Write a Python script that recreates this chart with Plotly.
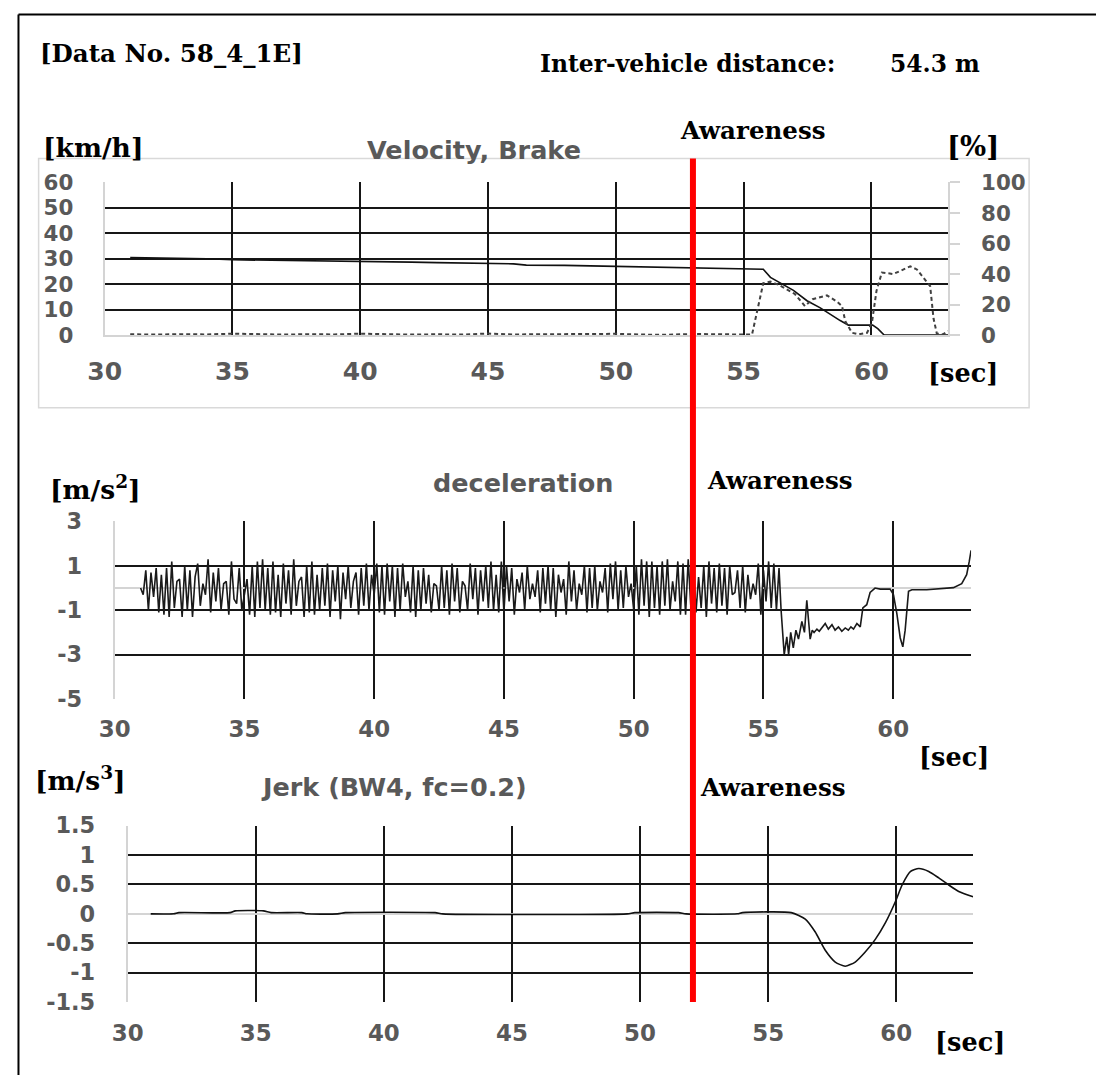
import numpy as np
import plotly.graph_objects as go

W, H = 1096, 1088
# the photographed page shows up slightly shrunk and shifted; place items so that
# they land on the reference pixel positions
SX, OX = 0.984, 16.4
SY, OY = 0.979, 11.0
FS = 1 / 0.981


def px(t):
    return ((t - OX) / SX) / W


def py(t):
    return 1 - ((t - OY) / SY) / H


def fs(s):
    return round(s * FS, 1)


# ---------------- data ----------------
x_ticks = [30, 35, 40, 45, 50, 55, 60]

vel_t = [31.0, 32.0, 33.0, 34.0, 35.0, 36.0, 37.0, 38.0, 39.0, 40.0, 41.0, 42.0, 43.0, 44.0, 45.0,
         46.0, 46.5, 47.0, 48.0, 49.0, 50.0, 51.0, 52.0, 53.0, 54.0, 55.0, 55.77, 56.05, 56.4, 56.95,
         57.48, 58.0, 58.78, 59.1, 60.05, 60.25, 60.5, 63.0]
vel_v = [30.5, 30.4, 30.3, 30.0, 29.6, 29.5, 29.4, 29.3, 29.2, 29.0, 28.9, 28.7, 28.5, 28.4, 28.2,
         28.0, 27.5, 27.5, 27.4, 27.2, 27.0, 26.6, 26.5, 26.3, 26.0, 25.9, 25.9, 22.7, 20.6, 17.6,
         13.5, 10.7, 5.7, 3.9, 3.9, 2.5, 0.0, 0.0]

brake_t = [31.0, 32.0, 33.0, 34.0, 35.0, 36.0, 37.0, 38.0, 39.0, 40.0, 41.0, 42.0, 43.0, 44.0, 45.0,
           46.0, 47.0, 48.0, 49.0, 50.0, 51.0, 52.0, 53.0, 54.0, 55.0, 55.33, 55.77, 56.05, 56.36,
           57.0, 57.4, 57.7, 58.26, 58.65, 58.85, 58.98, 59.24, 59.5, 59.83, 60.02, 60.2, 60.41,
           60.86, 61.52, 61.78, 62.17, 62.3, 62.43, 62.56, 62.8, 63.0]
brake_v = [0.5, 0.3, 0.6, 0.4, 0.9, 0.5, 0.3, 0.6, 0.4, 0.9, 0.6, 0.3, 0.5, 0.3, 1.0,
           0.4, 0.5, 0.6, 0.3, 0.8, 0.3, 0.2, 0.7, 0.5, 0.3, 0.3, 34.0, 35.0, 33.0,
           27.0, 19.0, 23.5, 26.0, 22.0, 19.0, 9.0, 1.5, 0.5, 1.5, 8.0, 29.0, 41.0,
           40.0, 45.0, 43.0, 35.0, 32.0, 11.0, 1.0, 0.5, 2.6]

dec_start = 31.0
dec_step = 0.1
dec_zigzag = [
    0.0, -0.3, 0.8, -1.0, 0.7, -0.4, 0.9, -1.1, 0.6, -1.2,
    0.9, -1.3, 1.2, -0.9, 0.3, 0.4, -1.3, 1.0, -1.0, 0.8,
    -1.3, 0.5, 1.1, -0.8, 0.2, -0.3, 1.3, -1.1, 0.7, -0.6,
    0.9, -1.0, 0.2, 0.3, -1.2, 1.2, -0.5, -0.7, 0.9, -1.0,
    -0.3, 0.4, -1.2, 1.0, -1.3, 1.2, -0.9, 1.3, -1.0, 0.9,
    -1.2, 1.2, -1.1, 0.6, -1.3, 1.1, -0.7, 0.8, -1.2, 1.3,
    -0.8, 0.3, 0.5, -1.3, 1.0, -1.1, 1.2, -1.2, 0.6, -1.0,
    0.9, -0.8, 1.1, -1.3, 0.8, -0.6, 1.0, -1.4, 0.7, -0.5,
    1.0, -0.9, 0.3, 0.7, -1.2, 0.9, -0.8, 1.1, -1.0, 0.6,
    -0.3, 1.1, -1.1, 1.0, -1.2, 1.1, -0.6, 1.0, -1.3, 0.9,
    -1.0, 1.1, -0.4, 0.3, -1.1, 1.0, -1.3, 0.8, -1.0, 0.9,
    -0.7, 0.6, -1.1, 0.2, 0.1, -1.0, 1.0, -0.9, 0.8, -1.2,
    1.1, -0.6, 0.9, -1.1, 0.3, 0.1, -1.0, 1.1, -0.5, 0.9,
    -1.2, 0.8, -0.6, 1.0, -0.9, 1.2, -1.0, 0.6, -1.1, 1.2,
    -1.1, 1.0, -0.6, 0.9, -1.2, 0.4, -0.2, 0.7, -1.0, 1.0,
    -0.5, 0.2, -0.4, 0.8, -1.1, 0.9, -0.7, 1.0, -1.0, 0.9,
    -1.3, 0.6, -0.2, 0.4, -1.2, 1.2, -0.6, 0.8, -1.0, 0.2,
    -0.3, 1.0, -1.1, 0.9, -0.9, 1.0, -1.0, 0.3, -0.2, 0.9,
    -1.1, 1.1, -0.5, 1.2, -1.0, 0.8, -0.9, 1.0, -0.4, 0.2,
    -1.0, 1.0, -1.2, 1.3, -0.8, 1.2, -1.3, 1.2, -0.9, 1.0,
    -1.2, 1.2, -0.8, 1.3, -1.0, 0.3, -0.6, 1.2, -1.2, 1.1,
    -1.2, 1.3, -0.8, 1.2, -1.1, 0.5, -0.9, 1.0, -1.3, 1.2,
    -0.7, 0.9, -1.1, 1.1, -0.8, 0.9, -1.2, 1.0, -0.3, -0.2,
    0.8, -0.9, 1.0, -1.1, 0.6, -0.5, 0.2, -0.3, 1.1, -1.2,
    0.8, -0.6, 1.2, -0.9, 1.1, -1.0, 0.9,
]
dec_tail_t = [55.68, 55.8, 55.9, 55.97, 56.05, 56.15, 56.25, 56.35, 56.48, 56.58, 56.67, 56.8,
              56.88, 56.95, 57.06, 57.15, 57.25, 57.38, 57.5, 57.64, 57.76, 57.89, 58.02, 58.15,
              58.27, 58.37, 58.47, 58.6, 58.73, 58.83, 58.98, 59.11, 59.3, 59.5, 59.88, 60.01,
              60.14, 60.27, 60.37, 60.46, 60.59, 60.72, 61.29, 61.61, 62.32, 62.64, 62.83, 62.93, 63.0]
dec_tail_v = [-1.0, -3.0, -2.2, -3.0, -2.0, -2.7, -1.9, -2.3, -1.5, -2.0, -0.55, -2.3,
              -1.9, -2.0, -1.85, -1.95, -1.8, -1.6, -1.85, -1.65, -1.9, -1.75, -1.95, -1.8,
              -1.9, -1.75, -1.85, -1.6, -1.75, -0.9, -0.75, -0.2, 0.0, -0.05, -0.05, -0.3,
              -1.15, -2.25, -2.65, -1.9, -0.15, -0.08, -0.08, -0.04, 0.02, 0.2, 0.6, 1.2, 1.7]

jerk_t = [30.9, 31.8, 32.0, 34.0, 34.2, 35.3, 35.6, 36.8, 37.0, 38.2,
          38.5, 42.0, 42.3, 49.5, 49.8, 51.5, 51.8, 53.8, 54.0, 55.9,
          56.45, 56.84, 57.23, 57.62, 58.01, 58.4, 58.79, 59.19, 59.58, 59.97,
          60.23, 60.56, 60.88, 61.27, 61.66, 62.05, 62.44, 63.0]
jerk_v = [0.0, 0.0, 0.02, 0.02, 0.05, 0.05, 0.02, 0.02, 0.0, 0.0,
          0.02, 0.02, 0.0, 0.0, 0.02, 0.02, 0.0, 0.0, 0.02, 0.02,
          -0.09, -0.31, -0.62, -0.82, -0.89, -0.82, -0.65, -0.43, -0.15, 0.21,
          0.49, 0.72, 0.77, 0.72, 0.61, 0.49, 0.38, 0.29]

vel_ticks = [0, 10, 20, 30, 40, 50, 60]
brake_ticks = [0, 20, 40, 60, 80, 100]
dec_ticks = [-5, -3, -1, 1, 3]
dec_ticktext = ["-5", "-3", "-1", "1", "3"]
jerk_ticks = [-1.5, -1, -0.5, 0, 0.5, 1, 1.5]
jerk_ticktext = ["-1.5", "-1", "-0.5", "0", "0.5", "1", "1.5"]

dec_t = list(np.round(dec_start + dec_step * np.arange(len(dec_zigzag)), 2)) + dec_tail_t
dec_v = dec_zigzag + dec_tail_v

# ---------------- styling ----------------
GRID = "#161616"
GW = 1.6
AXC = "#d4d4d4"
LBL = "#595959"
SANS = "DejaVu Sans"
SERIF = "DejaVu Serif"


def tfont(size):
    return dict(family=SANS, size=fs(size), color=LBL, weight="bold")


fig = go.Figure()
fig.add_trace(go.Scatter(x=vel_t, y=vel_v, mode="lines", xaxis="x", yaxis="y",
                         line=dict(color="#111111", width=1.6), showlegend=False, hoverinfo="skip"))
fig.add_trace(go.Scatter(x=brake_t, y=brake_v, mode="lines", xaxis="x", yaxis="y2",
                         line=dict(color="#404040", width=2, dash="4px,3px"), showlegend=False,
                         hoverinfo="skip"))
fig.add_trace(go.Scatter(x=dec_t, y=dec_v, mode="lines", xaxis="x2", yaxis="y3",
                         line=dict(color="#1a1a1a", width=1.6), showlegend=False, hoverinfo="skip"))
fig.add_trace(go.Scatter(x=jerk_t, y=jerk_v, mode="lines", xaxis="x3", yaxis="y4",
                         line=dict(color="#111111", width=1.6, shape="spline", smoothing=0.6),
                         showlegend=False, hoverinfo="skip"))

common_x = dict(range=[30, 63], tickvals=x_ticks, showgrid=True, gridcolor=GRID, gridwidth=GW,
                zeroline=False, ticks="", fixedrange=True)

fig.update_layout(
    width=W, height=H, margin=dict(l=0, r=0, t=0, b=0),
    paper_bgcolor="white", plot_bgcolor="white", showlegend=False,
    xaxis=dict(domain=[px(104), px(947)], anchor="y", showline=True, linecolor=AXC, linewidth=2,
               tickfont=tfont(24.5), ticklabelstandoff=13, **common_x),
    yaxis=dict(domain=[py(334), py(181)], anchor="x", range=[0, 60], tickvals=vel_ticks,
               showgrid=True, gridcolor=GRID, gridwidth=GW, showline=True, linecolor=AXC,
               linewidth=2, zeroline=False, ticks="", tickfont=tfont(21), ticklabelstandoff=25,
               fixedrange=True),
    yaxis2=dict(overlaying="y", side="right", anchor="x", range=[0, 100], tickvals=brake_ticks,
                showgrid=False, showline=True, linecolor=AXC, linewidth=1.5, zeroline=False,
                ticks="outside", ticklen=10, tickcolor=AXC, tickwidth=1.5, tickfont=tfont(21),
                ticklabelstandoff=17, fixedrange=True),
    xaxis2=dict(domain=[px(114), px(970)], anchor="y3", showline=False, tickfont=tfont(22.5),
                ticklabelstandoff=14, **common_x),
    yaxis3=dict(domain=[py(699), py(521)], anchor="x2", range=[-5, 3], tickvals=dec_ticks,
                ticktext=dec_ticktext,
                showgrid=True, gridcolor=GRID, gridwidth=GW, showline=True, linecolor=AXC,
                linewidth=2, zeroline=True, zerolinecolor=AXC, zerolinewidth=1.5, ticks="",
                tickfont=tfont(22), ticklabelstandoff=26, fixedrange=True),
    xaxis3=dict(domain=[px(127), px(972)], anchor="y4", showline=False, tickfont=tfont(22.5),
                ticklabelstandoff=15, **common_x),
    yaxis4=dict(domain=[py(1003), py(826)], anchor="x3", range=[-1.5, 1.5], tickvals=jerk_ticks,
                ticktext=jerk_ticktext, showgrid=True, gridcolor=GRID, gridwidth=GW,
                showline=True, linecolor=AXC, linewidth=2, zeroline=True, zerolinecolor=AXC,
                zerolinewidth=2, ticks="", tickfont=tfont(22), ticklabelstandoff=26,
                fixedrange=True),
)

# frames and awareness line
fig.add_shape(type="line", xref="paper", yref="paper", x0=1.5 / W, x1=1.5 / W, y0=0,
              y1=1 - 1.5 / H, line=dict(color="black", width=2))
fig.add_shape(type="line", xref="paper", yref="paper", x0=1.5 / W, x1=1, y0=1 - 1.5 / H,
              y1=1 - 1.5 / H, line=dict(color="black", width=2))
fig.add_shape(type="rect", xref="paper", yref="paper", x0=px(38), x1=px(1028), y0=py(407),
              y1=py(157), line=dict(color="#d9d9d9", width=1.5), layer="below")
fig.add_shape(type="line", xref="paper", yref="paper", x0=px(692), x1=px(692), y0=py(1003),
              y1=py(157), line=dict(color="#ff0000", width=6), layer="above")


def note(text, x, y, size, family=SERIF, color="black", weight="bold", anchor="left"):
    fig.add_annotation(text=text, xref="paper", yref="paper", x=px(x), y=py(y), xanchor=anchor,
                       yanchor="middle", showarrow=False,
                       font=dict(family=family, size=fs(size), color=color, weight=weight))


note("[Data No. 58_4_1E]", 37, 52, 24)
note("Inter-vehicle distance:", 537, 62, 23)
note("54.3 m", 887, 62, 23)
note("Awareness", 677, 129, 24)
note("[km/h]", 40, 146, 26)
note("Velocity, Brake", 364, 148, 25, family=SANS, color=LBL)
note("[%]", 944, 144, 27)
note("[sec]", 925, 372, 25)

note("[m/s<sup>2</sup>]", 47, 487, 26)
note("deceleration", 430, 482, 25, family=SANS, color=LBL)
note("Awareness", 704, 480, 24)
note("[sec]", 916, 757, 25)

note("[m/s<sup>3</sup>]", 32, 779, 26)
note("Jerk (BW4, fc=0.2)", 258, 787, 25, family=SANS, color=LBL)
note("Awareness", 697, 788, 24)
note("[sec]", 932, 1043, 25)

fig.write_html("out.html", config={"displayModeBar": False},
               post_script="document.body.style.margin='0';")
